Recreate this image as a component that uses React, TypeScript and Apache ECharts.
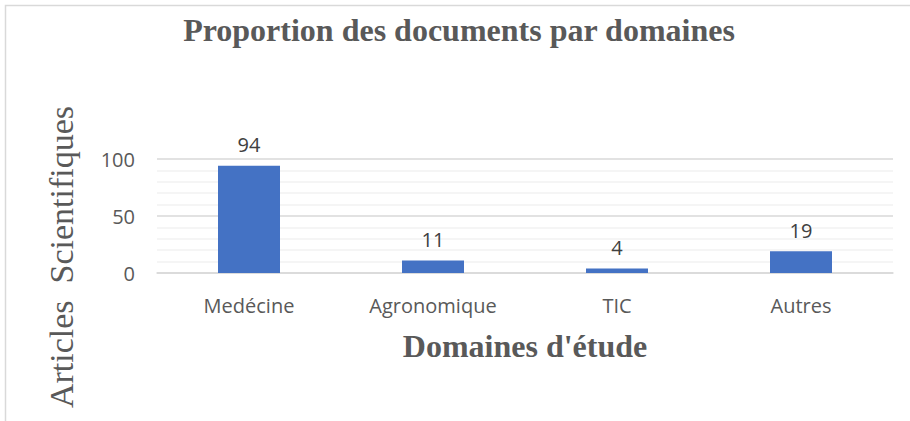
import React, { useEffect, useRef } from "react";
import * as echarts from "echarts";

const categories = ["Medécine", "Agronomique", "TIC", "Autres"];
const values = [94, 11, 4, 19];
const yTicks = [0, 50, 100];
const chartTitle = "Proportion des documents par domaines";
const xTitle = "Domaines d'étude";
const yTitle = "Articles  Scientifiques";

export default function App() {
  const ref = useRef<HTMLDivElement>(null);
  useEffect(() => {
    if (!ref.current) return;
    const chart = echarts.init(ref.current, null, { renderer: "svg" });
    chart.setOption({
      animation: false,
      backgroundColor: "#ffffff",
      grid: { left: 157, right: 17, top: 159, bottom: 148, containLabel: false },
      graphic: [
        {
          type: "rect",
          shape: { x: 5.5, y: 5.5, width: 920, height: 430 },
          style: { fill: "none", stroke: "#d9d9d9", lineWidth: 1.5 },
          silent: true,
        },
        {
          type: "text",
          x: 459,
          y: 30,
          style: {
            text: chartTitle,
            font: "bold 32px 'Liberation Serif'",
            fill: "#595959",
            textAlign: "center",
            textVerticalAlign: "middle",
          },
        },
        {
          type: "text",
          x: 525,
          y: 346,
          style: {
            text: xTitle,
            font: "bold 32px 'Liberation Serif'",
            fill: "#595959",
            textAlign: "center",
            textVerticalAlign: "middle",
          },
        },
        {
          type: "text",
          x: 61,
          y: 257,
          rotation: Math.PI / 2,
          style: {
            text: yTitle,
            font: "34px 'Liberation Serif'",
            fill: "#595959",
            textAlign: "center",
            textVerticalAlign: "middle",
          },
        },
      ],
      xAxis: {
        type: "category",
        data: categories,
        axisLine: { show: true, lineStyle: { color: "#d9d9d9", width: 1.5 } },
        axisTick: { show: false },
        axisLabel: { color: "#595959", fontSize: 20, fontFamily: "Open Sans", margin: 22 },
      },
      yAxis: {
        type: "value",
        min: 0,
        max: 100,
        interval: 10,
        axisLine: { show: false },
        axisTick: { show: false },
        axisLabel: {
          color: "#595959",
          fontSize: 20,
          fontFamily: "Open Sans",
          margin: 22,
          formatter: (v: number) => (yTicks.includes(v) ? String(v) : ""),
        },
        splitLine: {
          show: true,
          lineStyle: {
            color: ["#d9d9d9", "#f2f2f2", "#f2f2f2", "#f2f2f2", "#f2f2f2"],
            width: 1.5,
          },
        },
      },
      series: [
        {
          type: "bar",
          data: values,
          barWidth: 62,
          itemStyle: { color: "#4472c4" },
          label: {
            show: true,
            position: "top",
            distance: 11,
            color: "#404040",
            fontSize: 20,
            fontFamily: "Open Sans",
          },
        },
      ],
    });
    return () => chart.dispose();
  }, []);
  return (
    <div
      ref={ref}
      style={{ position: "absolute", left: 0, top: 0, width: 910, height: 421 }}
    />
  );
}
